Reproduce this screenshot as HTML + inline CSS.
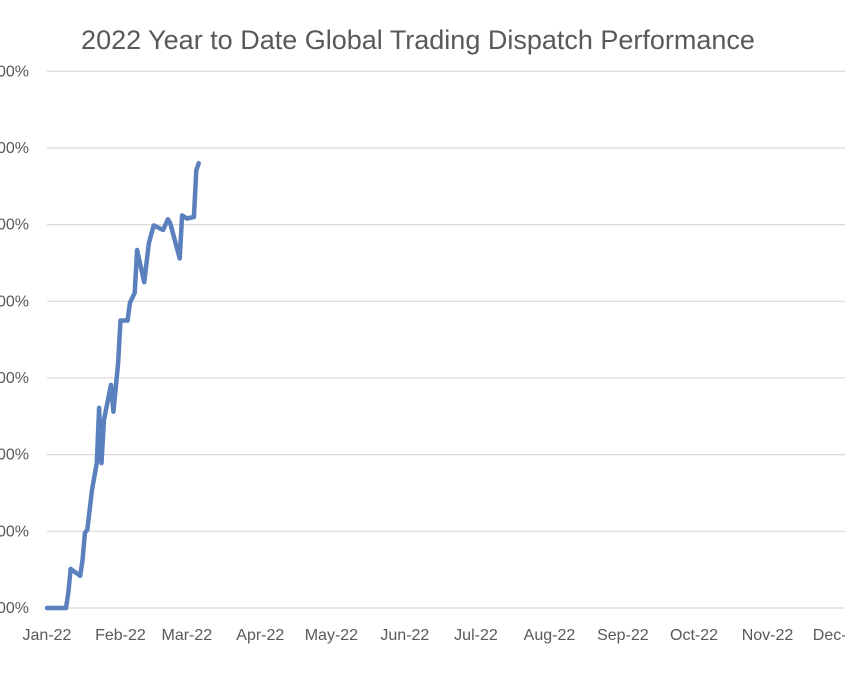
<!DOCTYPE html>
<html><head><meta charset="utf-8"><style>
body{margin:0;background:#fff;overflow:hidden}
svg{display:block;font-family:"Liberation Sans",sans-serif}
</style></head><body>
<svg id="chart" width="845" height="684" viewBox="0 0 845 684">
<text x="418" y="49" text-anchor="middle" font-size="27" fill="#595959">2022 Year to Date Global Trading Dispatch Performance</text>
<g id="grid"></g><g id="ylabels"></g><g id="xlabels"></g><g id="series"></g>
</svg>
<script>
const yTicks=[100,200,300,400,500,600,700,800];
const monthLabels=["Jan-22","Feb-22","Mar-22","Apr-22","May-22","Jun-22","Jul-22","Aug-22","Sep-22","Oct-22","Nov-22","Dec-22"];
const monthDays=[0,31,59,90,120,151,181,212,243,273,304,334];
const days=[0,8,9,10,14,15,16,17,19,21,22,23,24,27,28,30,31,34,35,37,38,41,43,45,49,51,52,56,57,59,62,63,64];
const values=[100,100,120,151,142,163,198,202,254,289,361,289,345,391,356,419,475,475,498,511,567,525,576,599,593,607,602,556,612,608,610,671,680];
const NS="http://www.w3.org/2000/svg";
const x=d=>47+d*2.37;
const y=v=>608-(v-100)*76.67/100;
function mk(tag,attrs,parent){const e=document.createElementNS(NS,tag);for(const k in attrs)e.setAttribute(k,attrs[k]);document.getElementById(parent).appendChild(e);return e;}
yTicks.forEach(t=>{
  const l=mk('line',{x1:47,x2:845,y1:y(t),y2:y(t),stroke:'#d9d9d9','stroke-width':1.2},'grid');
  
  
  const tx=mk('text',{x:29,y:y(t)+5,'text-anchor':'end','font-size':16,fill:'#595959'},'ylabels');
  tx.textContent=t+'%';
  
  
});
monthLabels.forEach((m,i)=>{
  const tx=mk('text',{x:x(monthDays[i]),y:640,'text-anchor':'middle','font-size':16,fill:'#595959'},'xlabels');
  tx.textContent=m;
  
  
});
const pts=days.map((d,i)=>x(d).toFixed(1)+','+y(values[i]).toFixed(1)).join(' ');
const pl=mk('polyline',{points:pts,fill:'none',stroke:'#5b80be','stroke-width':4.5,'stroke-linejoin':'round','stroke-linecap':'round'},'series');


</script>
</body></html>
